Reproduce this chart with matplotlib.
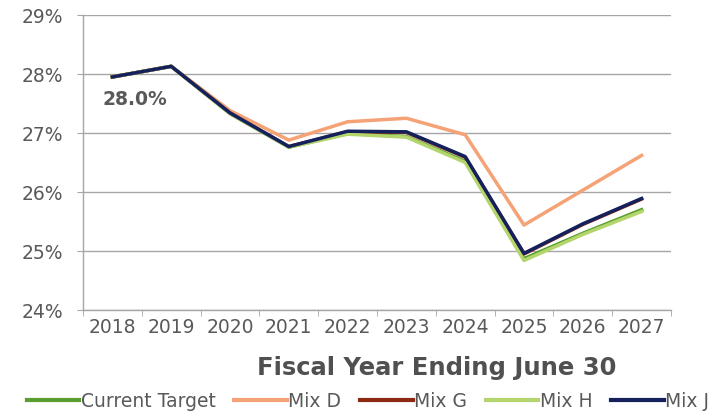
import matplotlib
matplotlib.use("Agg")
import matplotlib.pyplot as plt
from matplotlib.ticker import FuncFormatter, FixedLocator

years = ["2018", "2019", "2020", "2021", "2022", "2023", "2024", "2025", "2026", "2027"]

current_target = [27.95, 28.13, 27.33, 26.76, 26.99, 26.94, 26.52, 24.87, 25.30, 25.70]
mix_d = [27.95, 28.13, 27.38, 26.88, 27.19, 27.25, 26.97, 25.44, 26.03, 26.62]
mix_g = [27.95, 28.13, 27.34, 26.77, 27.02, 27.01, 26.59, 24.95, 25.45, 25.88]
mix_h = [27.95, 28.13, 27.33, 26.76, 26.98, 26.93, 26.50, 24.84, 25.28, 25.67]
mix_j = [27.95, 28.13, 27.34, 26.77, 27.03, 27.02, 26.60, 24.96, 25.46, 25.89]

series = [
    ("Current Target", current_target, "#5a9e2f"),
    ("Mix D", mix_d, "#f4a276"),
    ("Mix G", mix_g, "#8b2a12"),
    ("Mix H", mix_h, "#b3d56b"),
    ("Mix J", mix_j, "#15215c"),
]

label_text = "28.0%"
grey = "#595959"
axis_grey = "#a6a6a6"

fig = plt.figure(figsize=(7.13, 4.11), dpi=100)
ax = fig.add_axes([83 / 713, 1 - 310 / 411, (671 - 83) / 713, (310 - 15) / 411])

x = list(range(len(years)))
for name, vals, col in series:
    ax.plot(x, vals, color=col, lw=2.5, label=name)

ax.set_xlim(-0.5, len(years) - 0.5)
ax.set_ylim(24, 29)
ax.set_yticks([24, 25, 26, 27, 28, 29])
ax.yaxis.set_major_formatter(FuncFormatter(lambda v, p: f"{v:.0f}%"))
ax.set_xticks(x)
ax.set_xticklabels(years)
ax.xaxis.set_minor_locator(FixedLocator([i - 0.5 for i in range(len(years) + 1)]))
ax.tick_params(axis="x", which="major", length=0, pad=6, labelsize=13.5, labelcolor=grey)
ax.tick_params(axis="x", which="minor", length=4, color=axis_grey, direction="out")
ax.tick_params(axis="y", length=4, color=axis_grey, pad=10, labelsize=13.5, labelcolor=grey)

ax.grid(axis="y", color=axis_grey, lw=1.0)
ax.set_axisbelow(True)
for side in ["top", "right"]:
    ax.spines[side].set_visible(False)
for side in ["left", "bottom"]:
    ax.spines[side].set_color(axis_grey)
    ax.spines[side].set_linewidth(1.0)

ax.text(0.384, 27.56, label_text, fontsize=13.5, fontweight="bold", color=grey,
        ha="center", va="center")

fig.text(437 / 713, 1 - 368 / 411, "Fiscal Year Ending June 30", fontsize=17.5,
         fontweight="bold", color="#505050", ha="center", va="center")

leg = fig.legend(loc="center", bbox_to_anchor=(368 / 713, 1 - 401 / 411), ncol=5,
                 frameon=False, fontsize=13.5, handlelength=2.8, handletextpad=0.08,
                 columnspacing=1.0, borderpad=0, borderaxespad=0)
for t in leg.get_texts():
    t.set_color(grey)
for h in leg.get_lines():
    h.set_linewidth(3)

fig.savefig("out.png", dpi=100)
